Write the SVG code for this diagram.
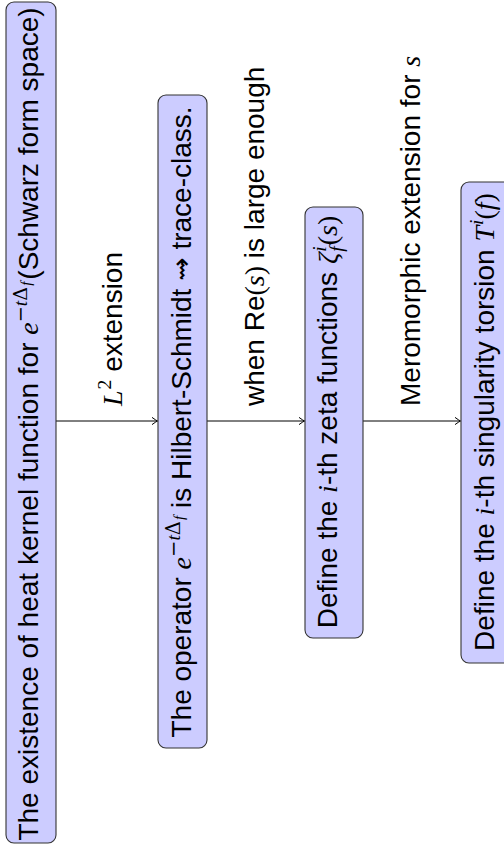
<svg xmlns="http://www.w3.org/2000/svg" width="504" height="855" viewBox="0 0 504 855">
<style>
.box{fill:#ccccff;stroke:#333333;stroke-width:1.1}
.t{font-family:"Liberation Sans",Arial,sans-serif;font-size:28px;fill:#000}
.m{font-family:"Liberation Serif","Times New Roman",serif}
.d{font-family:"DejaVu Serif",serif}
.i{font-style:italic}
.conn{stroke:#000;stroke-width:1;fill:none}
</style>
<defs>
<marker id="arr" markerUnits="userSpaceOnUse" markerWidth="12" markerHeight="10" viewBox="-7 -5 8 10" refX="0" refY="0" orient="auto">
<path d="M -5.5 -3.6 Q -1.5 -0.7 0 0 Q -1.5 0.7 -5.5 3.6" fill="none" stroke="#000" stroke-width="1"/>
</marker>
</defs>
<g id="connectors">
<line class="conn" x1="56" y1="421" x2="157.5" y2="421" marker-end="url(#arr)"/>
<line class="conn" x1="207" y1="421" x2="304.5" y2="421" marker-end="url(#arr)"/>
<line class="conn" x1="363" y1="421" x2="460.5" y2="421" marker-end="url(#arr)"/>
<text class="t" transform="translate(122,406) rotate(-90)"><tspan class="m i">L</tspan><tspan class="m" font-size="19.6" dx="1" dy="-11">2</tspan><tspan dy="11"> extension</tspan></text>
<text class="t" transform="translate(264,406) rotate(-90)">when Re<tspan class="m">(<tspan class="i">s</tspan>)</tspan> is large enough</text>
<text class="t" transform="translate(420,406) rotate(-90)">Meromorphic extension for <tspan class="m i">s</tspan></text>
</g>
<g id="node1">
<rect class="box" x="6" y="2" width="50" height="841" rx="8"/>
<text class="t" font-size="27.6" text-anchor="middle" transform="translate(38,424) rotate(-90)">The existence of heat kernel function for <tspan class="m i">e</tspan><tspan font-size="19.3" dy="-11"><tspan class="d">−</tspan><tspan class="m i">t</tspan><tspan class="d">Δ</tspan></tspan><tspan class="m i" font-size="15" dx="1" dy="4">f</tspan><tspan dx="2" dy="7">(Schwarz form space)</tspan></text>
</g>
<g id="node2">
<rect class="box" x="158" y="95" width="49" height="653" rx="8"/>
<text class="t" text-anchor="middle" transform="translate(191,422) rotate(-90)">The operator <tspan class="m i">e</tspan><tspan font-size="19.6" dy="-11"><tspan class="d">−</tspan><tspan class="m i">t</tspan><tspan class="d">Δ</tspan></tspan><tspan class="m i" font-size="15" dx="1" dy="4">f</tspan><tspan dy="7"> is Hilbert-Schmidt <tspan font-family="DejaVu Sans">⇝</tspan> trace-class.</tspan></text>
</g>
<g id="node3">
<rect class="box" x="305" y="207" width="58" height="431" rx="8"/>
<text class="t" text-anchor="middle" transform="translate(337,422) rotate(-90)">Define the <tspan class="m i">i</tspan>-th zeta functions <tspan class="m i">ζ</tspan><tspan class="m i" font-size="19.6" dx="1" dy="-11">i</tspan><tspan class="m i" font-size="19.6" dx="-5.4" dy="17">f</tspan><tspan class="m" dx="1" dy="-6">(<tspan class="i">s</tspan>)</tspan></text>
</g>
<g id="node4">
<rect class="box" x="461" y="182" width="52" height="481" rx="8"/>
<text class="t" text-anchor="middle" transform="translate(494,422) rotate(-90)">Define the <tspan class="m i">i</tspan>-th singularity torsion <tspan class="m i">T</tspan><tspan class="m i" font-size="19.6" dx="1" dy="-11">i</tspan><tspan class="m" dy="11">(<tspan class="i">f</tspan>)</tspan></text>
</g>
</svg>
